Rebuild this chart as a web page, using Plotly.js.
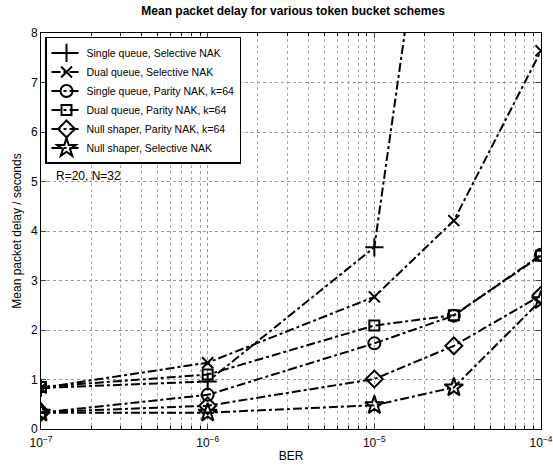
<!DOCTYPE html>
<html><head><meta charset="utf-8">
<script src="https://cdn.plot.ly/plotly-3.0.1.min.js"></script>
<style>html,body{margin:0;padding:0;background:#fff}#chart{width:553px;height:466px}</style>
</head><body><div id="chart"></div>
<script>
const ber = [1e-7, 1e-6, 1e-5, 3e-5, 1e-4];
const names = [
  "Single queue, Selective NAK",
  "Dual queue, Selective NAK",
  "Single queue, Parity NAK, k=64",
  "Dual queue, Parity NAK, k=64",
  "Null shaper, Parity NAK, k=64",
  "Null shaper, Selective NAK"
];
const singleSel = [0.83, 0.96, 3.67, 15, 40];
const dualSel = [0.83, 1.34, 2.67, 4.21, 7.64];
const singlePar = [0.33, 0.69, 1.73, 2.29, 3.52];
const dualPar = [0.85, 1.10, 2.09, 2.30, 3.50];
const nullPar = [0.34, 0.47, 1.01, 1.68, 2.70];
const nullSel = [0.33, 0.33, 0.48, 0.84, 2.60];
const series = [singleSel, dualSel, singlePar, dualPar, nullPar, nullSel];
const symbols = ["cross-thin-open", "x-thin-open", "circle-open", "square-open", "diamond-open", "star-open"];
const sizes = [13, 11, 12, 10, 13, 14];
const xTickVals = [1e-7, 1e-6, 1e-5, 1e-4];
const xTickText = ["10<sup>−7</sup>", "10<sup>−6</sup>", "10<sup>−5</sup>", "10<sup>−4</sup>"];
const xMinorVals = [];
[1e-7, 1e-6, 1e-5].forEach(d => { for (let k = 2; k <= 9; k++) xMinorVals.push(k * d); });
const yTickVals = [0,1,2,3,4,5,6,7,8];

const traces = series.map((y, i) => ({
  x: ber, y: y, name: names[i], type: "scatter", mode: "lines+markers",
  line: {color: "#000", width: 2, dash: "dashdot"},
  marker: {symbol: symbols[i], size: sizes[i], color: "#000", line: {color: "#000", width: 2}}
}));

const layout = {
  width: 553, height: 466,
  margin: {l: 41, r: 12, t: 33, b: 37},
  paper_bgcolor: "#fff", plot_bgcolor: "#fff",
  font: {family: "Liberation Sans, Arial, sans-serif", size: 12, color: "#000"},
  title: {text: "<b>Mean packet delay for various token bucket schemes</b>", x: 0.53, xanchor: "center", y: 0.985, yanchor: "top", font: {size: 12}},
  showlegend: true,
  legend: {x: 0.008, y: 0.99, xanchor: "left", yanchor: "top", bgcolor: "#fff", bordercolor: "#000", borderwidth: 1.5,
    font: {size: 10.5}, tracegroupgap: 0, itemwidth: 30},
  xaxis: {type: "log", range: [-7, -4], tickvals: xTickVals, ticktext: xTickText,
    showline: true, linecolor: "#000", linewidth: 1, mirror: "ticks", ticks: "inside", ticklen: 5,
    showgrid: true, gridcolor: "#999", griddash: "dot", gridwidth: 1, zeroline: false,
    ticklabelstandoff: 3,
    minor: {tickvals: xMinorVals, showgrid: true, gridcolor: "#aaa", griddash: "dot", gridwidth: 1, ticks: "inside", ticklen: 3, tickcolor: "#000"},
    title: {text: "BER", standoff: 2, font: {size: 12}}, tickfont: {size: 12}},
  yaxis: {range: [0, 8], tickvals: yTickVals,
    showline: true, linecolor: "#000", linewidth: 1, mirror: "ticks", ticks: "inside", ticklen: 5,
    showgrid: true, gridcolor: "#999", griddash: "dot", gridwidth: 1, zeroline: false,
    title: {text: "Mean packet delay / seconds", standoff: 6, font: {size: 12}}, tickfont: {size: 12}},
  annotations: [{xref: "paper", yref: "y", x: 0.026, y: 5.12, xanchor: "left", yanchor: "middle",
    text: "R=20, N=32", showarrow: false, font: {size: 12}}]
};
Plotly.newPlot("chart", traces, layout, {displayModeBar: false, staticPlot: true});
</script></body></html>
